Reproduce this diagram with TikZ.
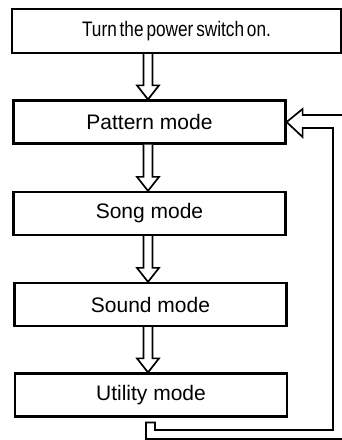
\documentclass[tikz,border=0pt]{standalone}
\usepackage{fontspec}
\setmainfont{Liberation Sans}
\usetikzlibrary{calc}
\tikzset{
  modebox/.style={draw, line width=2.2pt, minimum width=272pt, minimum height=43pt,
    inner sep=0pt, font=\fontsize{21}{25}\selectfont},
  topbox/.style={draw, line width=2.2pt, minimum width=329pt, minimum height=44pt,
    inner sep=0pt, font=\fontsize{21}{25}\selectfont},
  hollow/.style={draw, line width=1.7pt, line join=miter, fill=white}
}
\newcommand{\hollowdown}[2]{%
  \draw[hollow] ($(#1.south -| axis)+(-4.5,0)$) -- ($(#2.north -| axis)+(-4.5,14)$)
    -- ++(-6.5,0) -- (#2.north -| axis) -- ($(#2.north -| axis)+(11,14)$)
    -- ++(-6.5,0) -- ($(#1.south -| axis)+(4.5,0)$);}
\begin{document}
\begin{tikzpicture}[x=1pt,y=1pt]
  \useasboundingbox (0,0) rectangle (342,440);
  \clip (0,0) rectangle (342,440);
  \fill[white] (0,0) rectangle (342,440);
  \coordinate (axis) at (148,0);
  \node[topbox] (power) at (176.5,409)
    {\scalebox{0.82}[1]{\spaceskip=3.5pt\relax Turn the power switch on.}};
  \node[modebox] (pattern) at (149.5,318) {Pattern mode};
  \node[modebox] (song) at (149.5,226.5) {Song mode};
  \node[modebox] (sound) at (150.5,135.5) {Sound mode};
  \node[modebox] (utility) at (151,45) {Utility mode};
  \hollowdown{power}{pattern}
  \hollowdown{pattern}{song}
  \hollowdown{song}{sound}
  \hollowdown{sound}{utility}
  % feedback loop from Utility mode back to Pattern mode
  \coordinate (capL) at ($(utility.south -| axis)+(-2,-5)$);
  \coordinate (capR) at ($(utility.south -| axis)+(7,-5)$);
  \draw[hollow] (pattern.east) -- ++(16,-15) -- ++(0,9) -- (333,312) -- (333,10)
    -- (capR |- 0,10) -- (capR) -- (capL) -- (capL |- 0,1) -- (346,1) -- (346,325)
    -- ($(pattern.east)+(16,7)$) -- ++(0,6) -- cycle;
\end{tikzpicture}
\end{document}
